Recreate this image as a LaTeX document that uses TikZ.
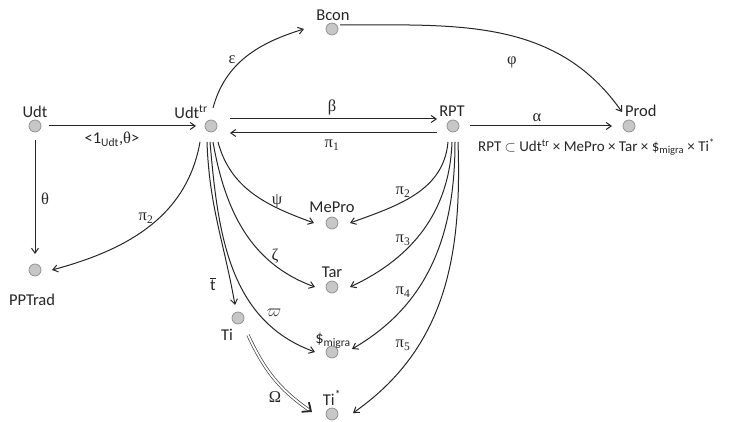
\documentclass[tikz,border=0pt]{standalone}
\usepackage{fontspec}
\setmainfont{Carlito}
\newfontfamily\grk{Liberation Serif}
\usetikzlibrary{arrows.meta}
\begin{document}
\begin{tikzpicture}[x=1pt,y=1pt,
  dot/.style={circle,fill=black!22,draw=black!45,line width=0.7pt,minimum size=12pt,inner sep=0pt,outer sep=0pt},
  lbl/.style={font=\fontsize{16.5}{18}\selectfont,inner sep=0pt,text=black!85},
  glbl/.style={font=\fontsize{16.5}{18}\selectfont\grk,inner sep=0pt,text=black!85},
  arr/.style={-{Straight Barb[length=5pt,width=7pt]},line width=1pt,draw=black!85},
]
\useasboundingbox (0,0) rectangle (737,-422);
% points
\node[dot] (udt) at (35,-126) {};
\node[dot] (udttr) at (211,-126) {};
\node[dot] (rpt) at (453,-126) {};
\node[dot] (prod) at (629,-126) {};
\node[dot] (bcon) at (332,-29) {};
\node[dot] (pptrad) at (35,-270) {};
\node[dot] (mepro) at (332,-223) {};
\node[dot] (tar) at (332,-287) {};
\node[dot] (migra) at (332,-352) {};
\node[dot] (tistar) at (332,-414) {};
\node[dot] (ti) at (238,-318) {};
% names
\node[lbl] (tudt) at (35,-112) {Udt};
\node[lbl] (tudttr) at (191,-112) {Udt\textsuperscript{tr}};
\node[lbl] (trpt) at (452,-111) {RPT};
\node[lbl,anchor=west] (tprod) at (625,-111) {Prod};
\node[lbl] (tbcon) at (333,-15) {Bcon};
\node[lbl] (tpptrad) at (32,-300) {PPTrad};
\node[lbl] (tmepro) at (332,-207) {MePro};
\node[lbl] (ttar) at (332,-272) {Tar};
\node[lbl] (tmigra) at (333,-341) {\$\textsubscript{migra}};
\node[lbl] (ttistar) at (332,-398) {Ti\textsuperscript{*}};
\node[lbl] (tti) at (227,-335) {Ti};
\node[lbl,anchor=west,font=\fontsize{15}{17}\selectfont] (tsub) at (478,-147) {RPT $\subset$ Udt\textsuperscript{tr} × MePro × Tar × \$\textsubscript{migra} × Ti\textsuperscript{*}};
% straight arrows
\draw[arr] ([xshift=8]udt.east) -- ([xshift=-9]udttr.west);
\node[lbl] (l1) at (112,-139) {<1\textsubscript{Udt},{\grk θ}>};
\draw[arr] ([yshift=-8]udt.south) -- ([yshift=10]pptrad.north);
\node[glbl] (lth) at (45,-199) {θ};
\draw[arr] ([shift={(19,7)}]udttr.center) -- ([shift={(-16,7)}]rpt.center);
\node[glbl] (lbeta) at (332,-107) {β};
\draw[arr] ([shift={(-16,-7)}]rpt.center) -- ([shift={(19,-7)}]udttr.center);
\node[glbl] (lpi1) at (332,-145) {π\textsubscript{1}};
\draw[arr] ([xshift=11]rpt.east) -- ([xshift=-11]prod.west);
\node[glbl] (lalpha) at (537,-118) {α};
% top curves
\draw[arr] ([shift={(2,18)}]udttr.center) to[out=75,in=197] ([xshift=-28]bcon.center);
\node[glbl] (leps) at (232,-60) {ε};
\draw[arr] ([shift={(8,4)}]bcon.center) to[out=0,in=125] ([shift={(-7,14)}]prod.center);
\node[glbl] (lphi) at (512,-62) {φ};
% left curve
\draw[arr] ([shift={(-11,-16)}]udttr.center) to[out=-100,in=15] ([xshift=17]pptrad.center);
\node[glbl] (lpi2a) at (146,-218) {π\textsubscript{2}};
% bundle from udttr
\draw[arr] ([shift={(-4,-16)}]udttr.center) to[out=-88,in=100] ([shift={(-3,13)}]ti.center);
\node[lbl] (lt) at (213,-284) {$\overline{\mbox{t}}$};
\draw[arr] ([shift={(-1,-16)}]udttr.center) to[out=-85,in=160] ([xshift=-17]migra.center);
\node[glbl,font=\fontsize{16.5}{18}\selectfont] (lvarpi) at (274,-313) {$\varpi$};
\draw[arr] ([shift={(2,-16)}]udttr.center) to[out=-80,in=160] ([xshift=-17]tar.center);
\node[glbl] (lzeta) at (275,-256) {ζ};
\draw[arr] ([shift={(7,-16)}]udttr.center) to[out=-75,in=160] ([xshift=-18]mepro.center);
\node[glbl] (lpsi) at (277,-201) {ψ};
% bundle from rpt
\draw[arr] ([shift={(-5,-16)}]rpt.center) to[out=-95,in=20] ([xshift=18]mepro.center);
\node[glbl] (lpi2) at (403,-192) {π\textsubscript{2}};
\draw[arr] ([shift={(-1,-16)}]rpt.center) to[out=-92,in=25] ([xshift=18]tar.center);
\node[glbl] (lpi3) at (403,-240) {π\textsubscript{3}};
\draw[arr] ([shift={(2,-16)}]rpt.center) to[out=-90,in=30] ([shift={(20,3)}]migra.center);
\node[glbl] (lpi4) at (403,-292) {π\textsubscript{4}};
\draw[arr] ([shift={(5,-16)}]rpt.center) to[out=-88,in=35] ([shift={(21,1)}]tistar.center);
\node[glbl] (lpi5) at (403,-345) {π\textsubscript{5}};
% Omega double arrow
\coordinate (omegaend) at ([shift={(-20,2)}]tistar.center);
\draw[draw=black!75,line width=0.7pt,double=white,double distance=1.8pt] ([shift={(10,-17)}]ti.center) to[out=-65,in=145] ([shift={(-3,2)}]omegaend);
\draw[-{Straight Barb[length=7pt,width=12pt,line width=1.8pt]},line width=1.8pt,draw=black!85] ([shift={(-2,1.5)}]omegaend) -- (omegaend);
\node[glbl] (lomega) at (275,-397) {Ω};
\end{tikzpicture}
\end{document}
